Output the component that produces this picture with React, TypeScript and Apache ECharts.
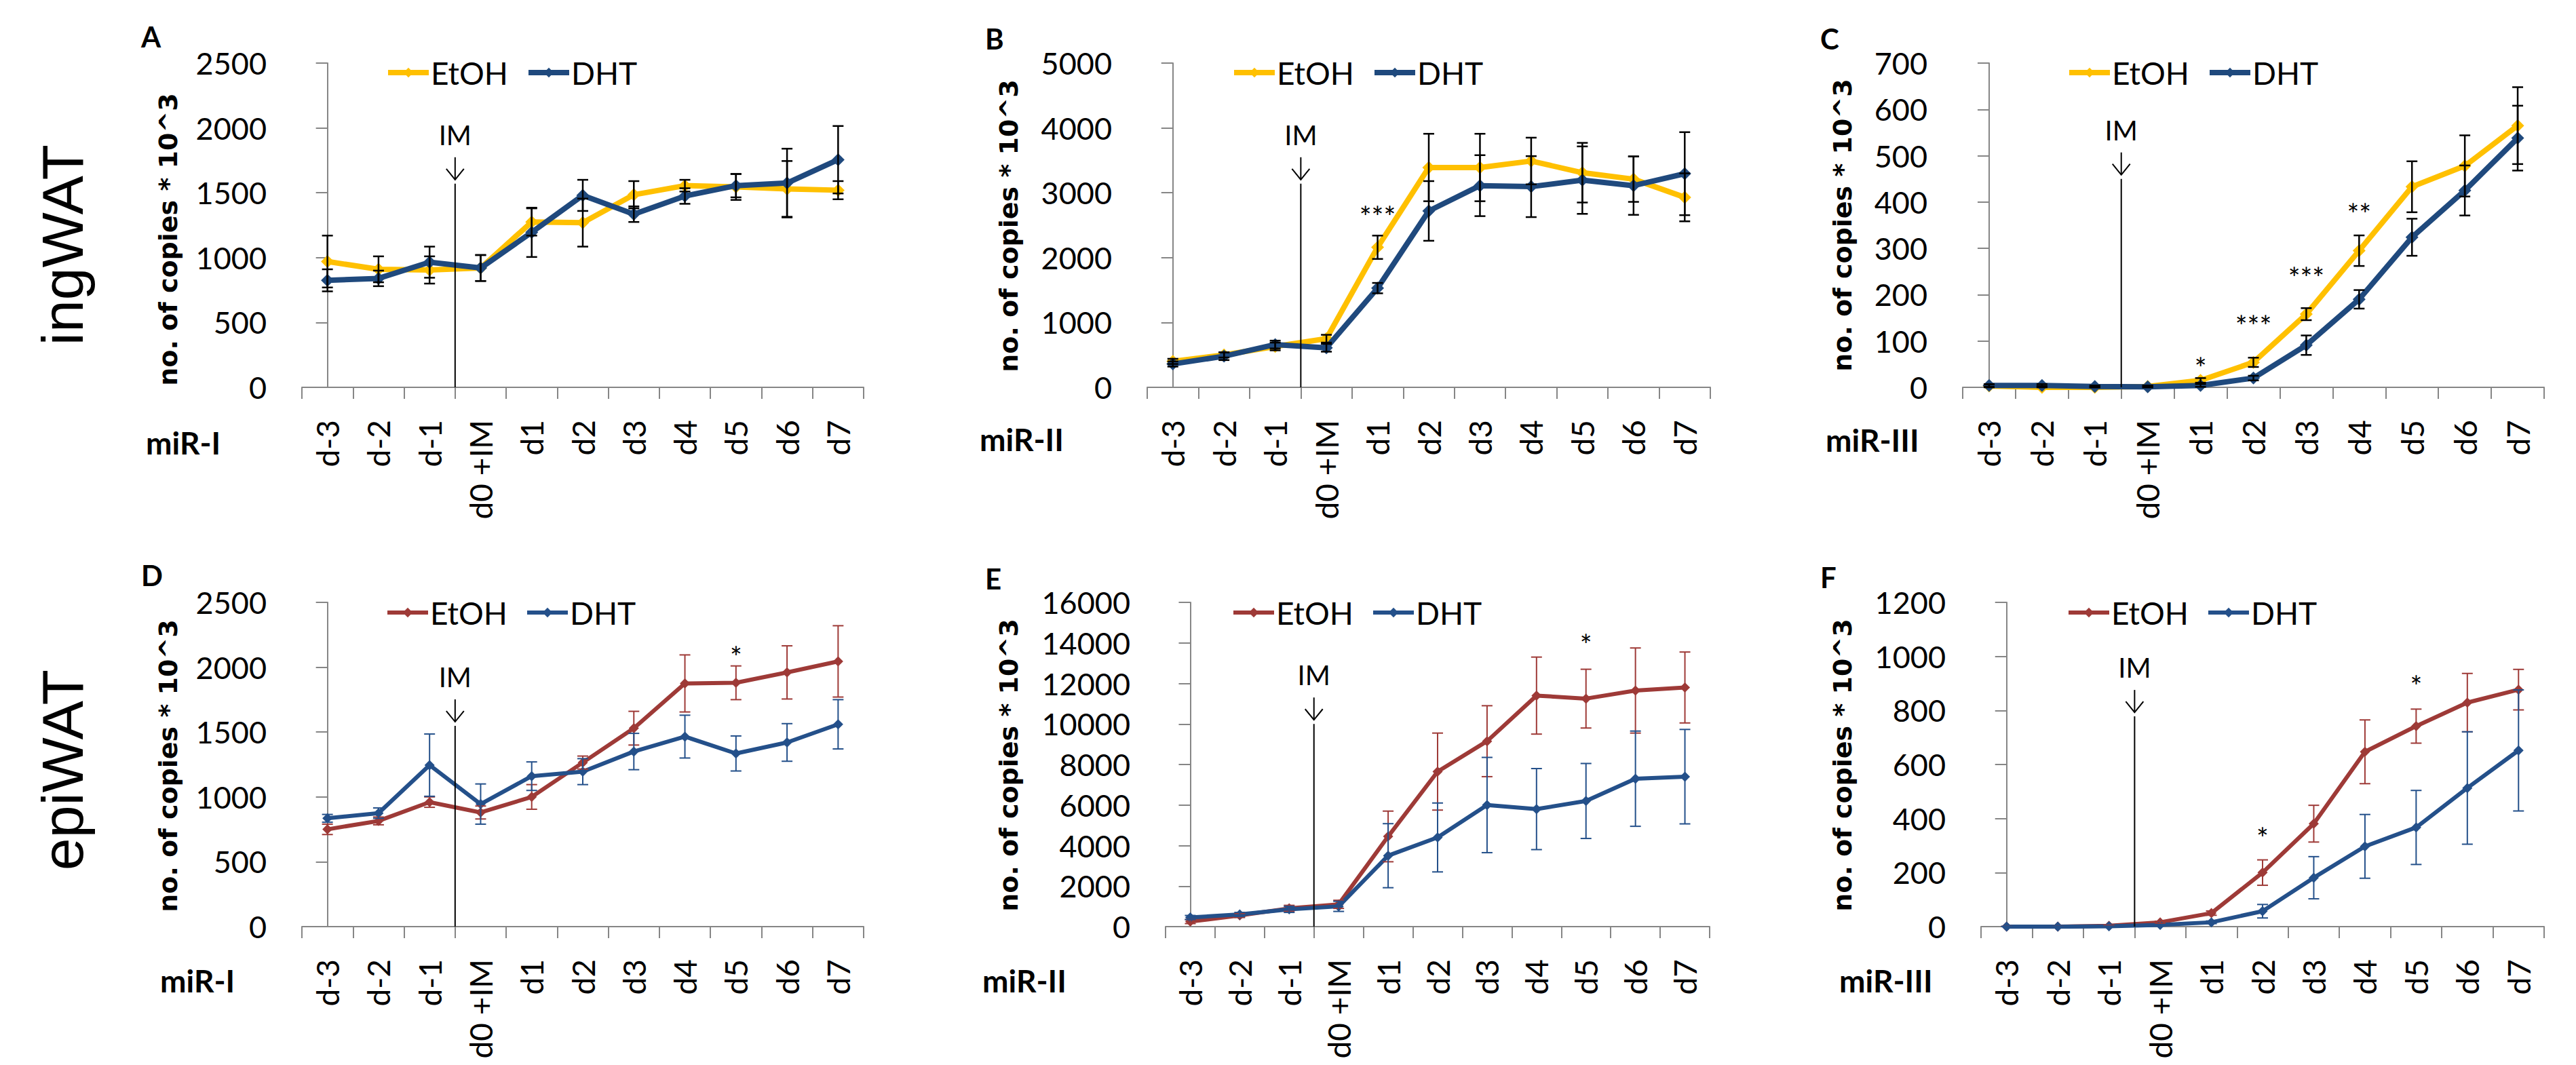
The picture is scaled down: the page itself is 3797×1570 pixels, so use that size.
import React, { useEffect, useRef } from 'react';
import * as echarts from 'echarts';

const categories = ['d-3', 'd-2', 'd-1', 'd0 +IM', 'd1', 'd2', 'd3', 'd4', 'd5', 'd6', 'd7'];

// Panel A: ingWAT miR-I
const etohA = [970, 910, 905, 920, 1275, 1270, 1485, 1555, 1545, 1530, 1520];
const etohAErr = [200, 100, 105, 100, 105, 185, 105, 45, 100, 215, 70];
const dhtA = [825, 840, 965, 920, 1195, 1480, 1335, 1475, 1555, 1575, 1755];
const dhtAErr = [85, 60, 120, 100, 190, 120, 60, 60, 90, 265, 260];

// Panel B: ingWAT miR-II
const etohB = [400, 500, 630, 750, 2160, 3390, 3390, 3490, 3310, 3210, 2930];
const etohBErr = [40, 40, 60, 60, 180, 520, 520, 360, 460, 350, 370];
const dhtB = [360, 480, 660, 610, 1530, 2720, 3110, 3095, 3195, 3110, 3295];
const dhtBErr = [40, 60, 60, 60, 80, 460, 470, 470, 520, 450, 640];

// Panel C: ingWAT miR-III
const etohC = [3, 0, 0, 2, 15, 54, 158, 295, 433, 478, 565];
const etohCErr = [3, 3, 2, 2, 5, 10, 13, 33, 55, 66, 83];
const dhtC = [4, 4, 2, 1, 4, 20, 91, 190, 324, 425, 538];
const dhtCErr = [3, 3, 2, 2, 3, 5, 21, 20, 40, 54, 70];

// Panel D: epiWAT miR-I
const etohD = [750, 815, 960, 880, 1000, 1265, 1530, 1875, 1880, 1960, 2045];
const etohDErr = [40, 30, 40, 50, 95, 50, 130, 220, 130, 205, 275];
const dhtD = [835, 875, 1245, 945, 1160, 1195, 1350, 1465, 1335, 1420, 1560];
const dhtDErr = [30, 40, 240, 155, 110, 100, 140, 165, 135, 145, 190];

// Panel E: epiWAT miR-II
const etohE = [250, 550, 900, 1100, 4450, 7650, 9150, 11400, 11250, 11650, 11800];
const etohEErr = [100, 100, 150, 200, 1250, 1900, 1750, 1900, 1450, 2100, 1750];
const dhtE = [450, 600, 850, 1000, 3500, 4400, 6000, 5800, 6200, 7300, 7400];
const dhtEErr = [100, 100, 150, 250, 1580, 1700, 2350, 2000, 1850, 2350, 2330];

// Panel F: epiWAT miR-III
const etohF = [0, 0, 3, 16, 50, 200, 381, 647, 742, 829, 877];
const etohFErr = [1, 1, 2, 4, 8, 47, 68, 118, 63, 108, 75];
const dhtF = [0, 0, 1, 6, 16, 57, 181, 297, 367, 513, 652];
const dhtFErr = [1, 1, 1, 2, 5, 25, 78, 118, 137, 208, 224];

// significance marks: [category index, value, text]
const sigA: [number, number, string][] = [];
const sigB: [number, number, string][] = [[4, 2728, '***']];
const sigC: [number, number, string][] = [[4, 55, '*'], [5, 146, '***'], [6, 250, '***'], [7, 388, '**']];
const sigD: [number, number, string][] = [[8, 2130, '*']];
const sigE: [number, number, string][] = [[8, 14228, '*']];
const sigF: [number, number, string][] = [[5, 352, '*'], [8, 915, '*']];

// IM marker: placed at boundary between d-1 and d0 (x = 2.5), top value
const imTops = [1570, 3140, 450, 1548, 10000, 778];
const yMaxes = [2500, 5000, 700, 2500, 16000, 1200];
const yIntervals = [500, 1000, 100, 500, 2000, 200];
const panelLetters = ['A', 'B', 'C', 'D', 'E', 'F'];
const mirLabels = ['miR-I', 'miR-II', 'miR-III', 'miR-I', 'miR-II', 'miR-III'];
const rowLabels = ['ingWAT', 'epiWAT'];

const YELLOW = '#FFC000';
const BLUE_TOP = '#1F497D';
const RED = '#9E3A37';
const BLUE_BOT = '#24508A';
const AXIS_GRAY = '#868686';

const panels = [
  { etoh: etohA, etohErr: etohAErr, dht: dhtA, dhtErr: dhtAErr, sig: sigA,
    grid: { left: 445, top: 93, width: 828, height: 478 }, legend: { left: 563, cy: 102 },
    letter: { x: 208, y: 41 }, ytitle: { x: 248, y: 353 }, mir: { x: 215, y: 652 } },
  { etoh: etohB, etohErr: etohBErr, dht: dhtB, dhtErr: dhtBErr, sig: sigB,
    grid: { left: 1691, top: 93, width: 830, height: 478 }, legend: { left: 1810, cy: 102 },
    letter: { x: 1452, y: 44 }, ytitle: { x: 1487, y: 333 }, mir: { x: 1444, y: 647 } },
  { etoh: etohC, etohErr: etohCErr, dht: dhtC, dhtErr: dhtCErr, sig: sigC,
    grid: { left: 2893, top: 93, width: 857, height: 478 }, legend: { left: 3041, cy: 102 },
    letter: { x: 2683, y: 44 }, ytitle: { x: 2716, y: 332 }, mir: { x: 2691, y: 648 } },
  { etoh: etohD, etohErr: etohDErr, dht: dhtD, dhtErr: dhtDErr, sig: sigD,
    grid: { left: 445, top: 888, width: 828, height: 478 }, legend: { left: 563, cy: 898 },
    letter: { x: 208, y: 835 }, ytitle: { x: 248, y: 1129 }, mir: { x: 236, y: 1445 } },
  { etoh: etohE, etohErr: etohEErr, dht: dhtE, dhtErr: dhtEErr, sig: sigE,
    grid: { left: 1718, top: 888, width: 802, height: 478 }, legend: { left: 1810, cy: 898 },
    letter: { x: 1452, y: 840 }, ytitle: { x: 1487, y: 1128 }, mir: { x: 1448, y: 1445 } },
  { etoh: etohF, etohErr: etohFErr, dht: dhtF, dhtErr: dhtFErr, sig: sigF,
    grid: { left: 2920, top: 888, width: 830, height: 478 }, legend: { left: 3041, cy: 898 },
    letter: { x: 2683, y: 838 }, ytitle: { x: 2716, y: 1128 }, mir: { x: 2711, y: 1445 } },
];

function errSeries(k: number, vals: number[], errs: number[], color: string, lw: number, hw: number) {
  return {
    type: 'custom',
    xAxisIndex: 2 * k,
    yAxisIndex: k,
    z: 6,
    silent: true,
    data: vals.map((v, i) => [i, v, errs[i]]),
    encode: { x: 0, y: 1 },
    renderItem: (params: any, api: any) => {
      const i = api.value(0);
      const v = api.value(1);
      const e = api.value(2);
      const hi = api.coord([i, v + e]);
      const lo = api.coord([i, Math.max(v - e, 0)]);
      const style = { stroke: color, lineWidth: lw };
      return {
        type: 'group',
        children: [
          { type: 'line', shape: { x1: hi[0], y1: hi[1], x2: lo[0], y2: lo[1] }, style },
          { type: 'line', shape: { x1: hi[0] - hw, y1: hi[1], x2: hi[0] + hw, y2: hi[1] }, style },
          { type: 'line', shape: { x1: lo[0] - hw, y1: lo[1], x2: lo[0] + hw, y2: lo[1] }, style },
        ],
      };
    },
  };
}

function buildOption() {
  const grid: any[] = [];
  const xAxis: any[] = [];
  const yAxis: any[] = [];
  const legend: any[] = [];
  const series: any[] = [];
  const graphic: any[] = [];

  panels.forEach((p, k) => {
    const top = k < 3;
    const cE = top ? YELLOW : RED;
    const cD = top ? BLUE_TOP : BLUE_BOT;
    const errCE = top ? '#000' : RED;
    const errCD = top ? '#000' : BLUE_BOT;
    const lineW = top ? 8 : 6;
    const symS = top ? 19 : 15;

    grid.push({ ...p.grid, containLabel: false });
    xAxis.push({
      type: 'category', gridIndex: k, data: categories, boundaryGap: true,
      axisLine: { show: true, lineStyle: { color: AXIS_GRAY, width: 2 } },
      axisTick: { show: true, length: 17, lineStyle: { color: AXIS_GRAY, width: 2 } },
      axisLabel: { rotate: 90, margin: 48, interval: 0, fontFamily: 'Lato', fontSize: 46, color: '#000' },
      splitLine: { show: false },
    });
    xAxis.push({ type: 'value', gridIndex: k, min: -0.5, max: 10.5, show: false, splitLine: { show: false } });
    yAxis.push({
      type: 'value', gridIndex: k, min: 0, max: yMaxes[k], interval: yIntervals[k],
      axisLine: { show: true, lineStyle: { color: AXIS_GRAY, width: 2 } },
      axisTick: { show: true, length: 17, lineStyle: { color: AXIS_GRAY, width: 2 } },
      axisLabel: { margin: 52, fontFamily: 'Lato', fontSize: 45, color: '#000', formatter: (v: number) => String(v) },
      splitLine: { show: false },
    });

    const nE = panelLetters[k] + ':EtOH';
    const nD = panelLetters[k] + ':DHT';
    legend.push({
      left: p.legend.left, top: p.legend.cy - 26, orient: 'horizontal',
      data: [nE, nD], selectedMode: false,
      formatter: (n: string) => n.split(':')[1],
      itemWidth: 60, itemHeight: 18, itemGap: 26,
      lineStyle: { width: lineW },
      textStyle: { fontFamily: 'Lato', fontSize: 46, color: '#000', lineHeight: 52, padding: [0, 0, 0, -2] },
    });

    series.push({
      type: 'line', name: nE, xAxisIndex: 2 * k, yAxisIndex: k, data: p.etoh,
      symbol: 'diamond', symbolSize: symS, showSymbol: true,
      lineStyle: { width: lineW, color: cE }, itemStyle: { color: cE }, z: 3,
    });
    series.push({
      type: 'line', name: nD, xAxisIndex: 2 * k, yAxisIndex: k, data: p.dht,
      symbol: 'diamond', symbolSize: symS, showSymbol: true,
      lineStyle: { width: lineW, color: cD }, itemStyle: { color: cD }, z: 4,
    });
    series.push(errSeries(k, p.etoh, p.etohErr, errCE, top ? 2.5 : 2, 8));
    series.push(errSeries(k, p.dht, p.dhtErr, errCD, top ? 2.5 : 2, 8));

    // significance marks
    const sig = p.sig;
    series.push({
      type: 'custom', xAxisIndex: 2 * k, yAxisIndex: k, z: 7, silent: true,
      data: sig.map((s) => [s[0], s[1]]),
      encode: { x: 0, y: 1 },
      renderItem: (params: any, api: any) => {
        const pt = api.coord([api.value(0), api.value(1)]);
        return {
          type: 'text',
          x: pt[0], y: pt[1] + 9,
          style: {
            text: sig[params.dataIndex][2], fill: '#000', fontFamily: 'Lato', fontSize: 42,
            align: 'center', verticalAlign: 'middle', textAlign: 'center', textVerticalAlign: 'middle',
          },
        };
      },
    });

    // IM marker
    series.push({
      type: 'custom', xAxisIndex: 2 * k + 1, yAxisIndex: k, z: 8, silent: true,
      data: [[2.5, imTops[k]]],
      encode: { x: 0, y: 1 },
      renderItem: (params: any, api: any) => {
        const t = api.coord([api.value(0), api.value(1)]);
        const b = api.coord([api.value(0), 0]);
        const x = t[0];
        const y = t[1];
        const st = { stroke: '#000', lineWidth: 2 };
        return {
          type: 'group',
          children: [
            { type: 'line', shape: { x1: x, y1: y, x2: b[0], y2: b[1] }, style: st },
            { type: 'line', shape: { x1: x, y1: y - 39, x2: x, y2: y - 6 }, style: st },
            { type: 'polyline', shape: { points: [[x - 13, y - 22], [x, y - 6], [x + 13, y - 22]] }, style: { ...st, fill: null } },
            {
              type: 'text', x, y: y - 72,
              style: {
                text: 'IM', fill: '#000', fontFamily: 'Lato', fontSize: 40,
                align: 'center', verticalAlign: 'middle', textAlign: 'center', textVerticalAlign: 'middle',
              },
            },
          ],
        };
      },
    });

    graphic.push({
      type: 'text', x: p.letter.x, y: p.letter.y - 8,
      style: { text: panelLetters[k], fill: '#000', fontFamily: 'Lato', fontWeight: 'bold', fontSize: 42,
        align: 'left', verticalAlign: 'top', textAlign: 'left', textVerticalAlign: 'top' },
    });
    graphic.push({
      type: 'text', x: p.ytitle.x, y: p.ytitle.y, rotation: Math.PI / 2,
      style: { text: 'no. of copies * 10^3', fill: '#000', fontFamily: 'DejaVu Sans', fontWeight: 'bold', fontSize: 38,
        align: 'center', verticalAlign: 'middle', textAlign: 'center', textVerticalAlign: 'middle' },
    });
    graphic.push({
      type: 'text', x: p.mir.x, y: p.mir.y,
      style: { text: mirLabels[k], fill: '#000', fontFamily: 'Lato', fontWeight: 'bold', fontSize: 46,
        align: 'left', verticalAlign: 'middle', textAlign: 'left', textVerticalAlign: 'middle' },
    });
  });

  const rowPos = [{ x: 92, y: 361 }, { x: 92, y: 1135 }];
  rowLabels.forEach((r, i) => {
    graphic.push({
      type: 'text', x: rowPos[i].x, y: rowPos[i].y, rotation: Math.PI / 2,
      style: { text: r, fill: '#000', fontFamily: 'Liberation Sans', fontSize: 86,
        align: 'center', verticalAlign: 'middle', textAlign: 'center', textVerticalAlign: 'middle' },
    });
  });

  return { animation: false, backgroundColor: '#ffffff', grid, xAxis, yAxis, legend, series, graphic };
}

export default function App() {
  const ref = useRef<HTMLDivElement>(null);
  useEffect(() => {
    if (!ref.current) return;
    const chart = echarts.init(ref.current, undefined, { renderer: 'svg' });
    chart.setOption(buildOption() as any);
    return () => chart.dispose();
  }, []);
  return (
    <div
      ref={ref}
      style={{ position: 'absolute', left: 0, top: 0, width: 3797, height: 1570, background: '#fff' }}
    />
  );
}
